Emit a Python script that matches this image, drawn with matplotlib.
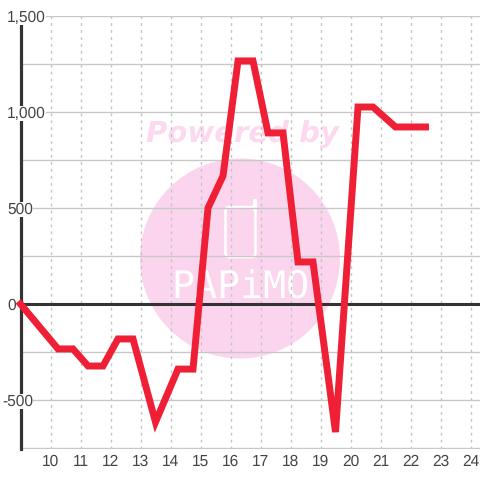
import matplotlib
matplotlib.use("Agg")
import matplotlib.pyplot as plt
from matplotlib.patches import Circle, FancyBboxPatch

hours = [9, 10.25, 10.75, 11.25, 11.75, 12.25, 12.75, 13.5, 14.25, 14.75, 15.25, 15.75,
         16.25, 16.75, 17.25, 17.75, 18.25, 18.75, 19.5, 20.25, 20.75, 21.5, 22.5]
values = [0, -234, -234, -323, -323, -182, -182, -615, -339, -339, 500, 667,
          1266, 1266, 891, 891, 219, 219, -667, 1026, 1026, 922, 922]
x_ticks = list(range(10, 25))
y_major = [-500, 0, 500, 1000, 1500]
y_labels = ["-500", "0", "500", "1,000", "1,500"]
y_grid = [-750, -500, -250, 250, 500, 750, 1000, 1250, 1500]

plt.rcParams['font.family'] = ['Liberation Sans', 'DejaVu Sans']
plt.rcParams['text.hinting'] = 'no_hinting'
W = 480
fig = plt.figure(figsize=(4.8, 4.8), dpi=100, facecolor='white')
L, R, T, B = 20.5, 480, 16, 448.5
ax = fig.add_axes([L/W, 1-B/W, (R-L)/W, (B-T)/W])
ax.set_xlim(9, 9 + (R-L)/30)
ax.set_ylim(-750*(B-304)/144, 1500)
for s in ax.spines.values():
    s.set_visible(False)
ax.patch.set_alpha(0)

ax.set_xticks(x_ticks)
ax.tick_params(axis='both', length=0)
ax.set_yticks([])
ax.set_xticklabels([str(t) for t in x_ticks], fontsize=11.2, color='#444444')
ax.tick_params(axis='x', pad=4.2)

for t in x_ticks:
    ax.axvline(t, color='#c4c4c4', lw=1, ls=(0, (2, 3)), zorder=1)
for v in y_grid:
    ax.axhline(v, color='#c8c8c8', lw=1, zorder=1)

# watermark, in figure pixel coordinates
pix = fig.transFigure
def px(x, y):
    return (x/W, 1-y/W)
fig.add_artist(Circle(px(240, 258.5), 100/W, transform=pix, fc='#fbd5ee', ec='none', zorder=1.5))
fig.add_artist(FancyBboxPatch(px(225.5, 257), 30/W, 50/W, boxstyle='round,pad=0,rounding_size=0.008',
                              transform=pix, fc='none', ec='white', lw=1.8, zorder=1.6))
fig.add_artist(plt.Line2D([255/W, 255/W], [1-210/W, 1-201/W], color='white', lw=3,
                          solid_capstyle='round', transform=pix, zorder=1.6))
fig.text(*px(242, 134), 'Powered by', fontsize=21, fontweight='bold', fontstyle='italic', family='DejaVu Sans',
         color='#fcd9ef', ha='center', va='center', zorder=1.6)
fig.text(*px(240.5, 288), 'PAPiMO', fontsize=27.5, family='DejaVu Sans Mono', color='white',
         ha='center', va='center', zorder=1.6)

ax.set_zorder(3)
ax.axvline(9, color='#333333', lw=2.3, zorder=3, clip_on=False)
ax.axhline(0, color='#333333', lw=2.2, zorder=3)
ax.plot(hours, values, color='#ef2035', lw=5, solid_joinstyle='miter', solid_capstyle='projecting',
        zorder=4, clip_on=False)

for v, lab in zip(y_major, y_labels):
    off = -18.5 if lab.startswith('-') else -13.5
    ax.annotate(lab, (9, v), xycoords='data', xytext=(off*0.72, -1.2), textcoords='offset points',
                fontsize=11.2, color='#444444', ha='left', va='center', zorder=5,
                bbox=dict(fc='white', ec='none', pad=0), annotation_clip=False)

fig.savefig('out.png', dpi=100)
